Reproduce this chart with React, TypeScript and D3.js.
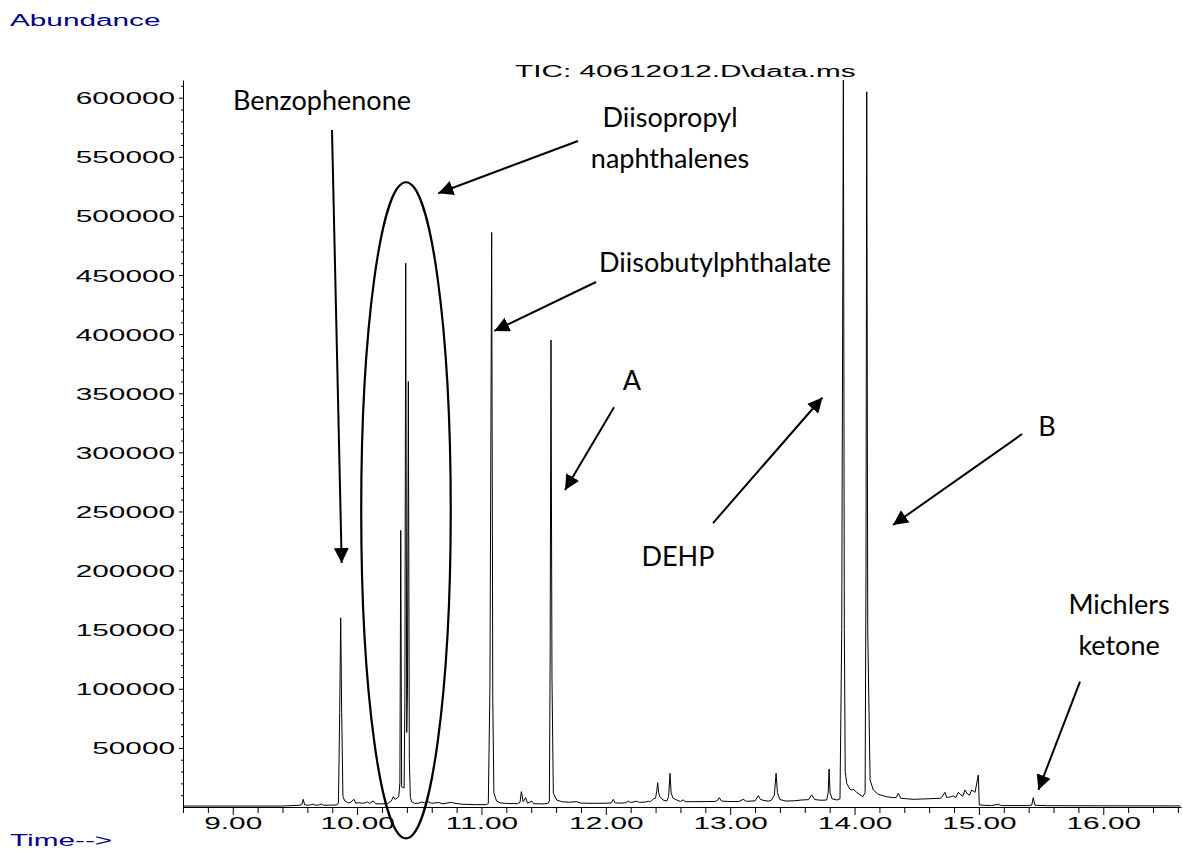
import React, { useEffect, useRef } from 'react'
import * as d3 from 'd3'

// retention time (min), abundance
const ticTrace: [number, number][] = [
  [8.6, 800], [9.4, 800], [9.5, 1300], [9.54, 1500], [9.555, 2000], [9.567, 6500], [9.578, 1800],
  [9.6, 1500], [9.625, 1800], [9.648, 2400], [9.66, 1600], [9.69, 1600], [9.715, 2500], [9.73, 1500],
  [9.8, 1600], [9.836, 1700], [9.85, 3500], [9.86, 80000], [9.868, 160000], [9.876, 80000],
  [9.886, 9000], [9.9, 5200], [9.915, 4500], [9.93, 3500], [9.945, 3800], [9.975, 6500], [9.99, 3200],
  [10.01, 3600], [10.035, 3200], [10.06, 3400], [10.085, 4300], [10.1, 3000], [10.13, 5100],
  [10.15, 2800], [10.2, 2600], [10.25, 3200], [10.275, 5000], [10.291, 8700], [10.305, 6500],
  [10.319, 7400], [10.335, 9000], [10.344, 20000], [10.351, 234000], [10.358, 17000],
  [10.378, 16000], [10.384, 90000], [10.391, 460000], [10.399, 63000], [10.405, 100000],
  [10.412, 360000], [10.42, 40000], [10.428, 8000], [10.439, 4500], [10.46, 3100], [10.49, 3100],
  [10.52, 4200], [10.545, 3400], [10.572, 4500], [10.6, 3100], [10.653, 3800], [10.69, 2700],
  [10.752, 3900], [10.771, 3600], [10.779, 3200], [10.85, 2300], [10.95, 2000], [11.04, 2000],
  [11.055, 3000], [11.068, 100000], [11.082, 486000], [11.091, 90000], [11.1, 11600],
  [11.122, 5000], [11.149, 3500], [11.203, 3000], [11.29, 2800], [11.31, 4000], [11.321, 13000],
  [11.335, 4500], [11.345, 6000], [11.355, 8000], [11.37, 3200], [11.404, 5000], [11.42, 2800],
  [11.5, 2600], [11.535, 3100], [11.546, 5000], [11.552, 120000], [11.559, 395000],
  [11.567, 110000], [11.578, 11600], [11.605, 5900], [11.645, 4500], [11.7, 4000], [11.766, 4500],
  [11.8, 3300], [11.9, 3100], [12.0, 3200], [12.045, 3500], [12.06, 6500], [12.075, 3400],
  [12.12, 3300], [12.16, 3600], [12.181, 4900], [12.2, 3800], [12.248, 4900], [12.27, 3900],
  [12.32, 4200], [12.342, 4900], [12.36, 4500], [12.382, 6800], [12.4, 7500], [12.41, 14000],
  [12.417, 20600], [12.425, 12000], [12.435, 8700], [12.46, 5900], [12.49, 5000], [12.505, 9000],
  [12.516, 28500], [12.525, 12000], [12.54, 7500], [12.57, 5900], [12.6, 4700], [12.623, 6000],
  [12.64, 4500], [12.7, 4500], [12.8, 4600], [12.88, 4700], [12.9, 5800], [12.912, 7900],
  [12.93, 5000], [13.0, 4600], [13.07, 4700], [13.105, 6500], [13.13, 4800], [13.2, 5200],
  [13.226, 9600], [13.245, 6300], [13.28, 5300], [13.31, 5000], [13.33, 5600], [13.355, 10000],
  [13.369, 28500], [13.38, 12000], [13.4, 6300], [13.45, 5000], [13.52, 5300], [13.57, 5900],
  [13.63, 6200], [13.655, 10200], [13.68, 6300], [13.73, 5700], [13.776, 5900], [13.788, 12000],
  [13.795, 32200], [13.803, 12000], [13.82, 6900], [13.86, 5900], [13.883, 7000],
  [13.897, 150000], [13.91, 615000], [13.918, 150000], [13.925, 30000], [13.937, 20000],
  [13.963, 15000], [13.98, 14400], [13.99, 15000], [14.017, 12400], [14.044, 10200],
  [14.066, 8700], [14.085, 12000], [14.092, 200000], [14.098, 605000], [14.106, 150000],
  [14.125, 22800], [14.151, 14400], [14.191, 10700], [14.259, 8700], [14.312, 7900],
  [14.335, 8000], [14.352, 11600], [14.371, 7400], [14.472, 6500], [14.607, 7000],
  [14.687, 7400], [14.7, 8000], [14.727, 12400], [14.74, 8200], [14.754, 8200], [14.77, 8500],
  [14.794, 9300], [14.815, 8000], [14.834, 12400], [14.856, 10200], [14.87, 9000],
  [14.888, 14400], [14.907, 11000], [14.925, 10000], [14.942, 14400], [14.969, 12400],
  [14.995, 27100], [15.003, 1700], [15.1, 1200], [15.156, 2300], [15.18, 1200], [15.4, 1200],
  [15.425, 1600], [15.437, 7900], [15.45, 1500], [15.55, 1100], [16.0, 1000], [16.62, 900],
]

const xMajorTicks = [9, 10, 11, 12, 13, 14, 15, 16]
const yMajorTicks = [50000, 100000, 150000, 200000, 250000, 300000, 350000, 400000, 450000, 500000, 550000, 600000]

// peak names: text, time, abundance of the baseline
const peakLabels = [
  { text: 'Benzophenone', t: 9.002, v: 589600, anchor: 'start' },
  { text: 'Diisopropyl', t: 12.516, v: 575200, anchor: 'middle' },
  { text: 'naphthalenes', t: 12.516, v: 540500, anchor: 'middle' },
  { text: 'Diisobutylphthalate', t: 12.878, v: 452600, anchor: 'middle' },
  { text: 'A', t: 12.21, v: 352800, anchor: 'middle' },
  { text: 'B', t: 15.548, v: 313800, anchor: 'middle' },
  { text: 'DEHP', t: 12.58, v: 203900, anchor: 'middle' },
  { text: 'Michlers', t: 16.127, v: 163300, anchor: 'middle' },
  { text: 'ketone', t: 16.127, v: 128600, anchor: 'middle' },
]

// arrows: [time, abundance] from -> to
const arrows: [number, number, number, number][] = [
  [9.798, 572700, 9.876, 206400],
  [11.776, 563400, 10.653, 519200],
  [11.921, 444100, 11.103, 402700],
  [12.066, 338100, 11.672, 268200],
  [12.862, 240200, 13.742, 346400],
  [15.347, 315500, 14.309, 238600],
  [15.813, 106000, 15.478, 14400],
]

// ring round the diisopropyl naphthalenes: centre time, centre abundance, half width (min), half height
const ring = { t: 10.393, v: 251000, dt: 0.36, dv: 277500 }

const STRETCH = 1.86
const chemFont = '"Liberation Sans", Arial, sans-serif'

function App() {
  const ref = useRef<SVGSVGElement>(null)

  useEffect(() => {
    document.body.style.margin = '0'
    const svg = d3.select(ref.current)
    svg.selectAll('*').remove()

    const x = d3.scaleLinear().domain([8.6, 16.625]).range([183, 1181])
    const y = d3.scaleLinear().domain([0, 615000]).range([807, 80])

    const defs = svg.append('defs')
    defs.append('marker')
      .attr('id', 'head')
      .attr('viewBox', '0 0 10 10')
      .attr('refX', 10)
      .attr('refY', 5)
      .attr('markerWidth', 15)
      .attr('markerHeight', 15)
      .attr('markerUnits', 'userSpaceOnUse')
      .attr('orient', 'auto')
      .append('path')
      .attr('d', 'M0,0 L10,5 L0,10 z')
      .attr('fill', '#000')

    // axis titles
    svg.append('text')
      .attr('transform', `translate(10,26) scale(${STRETCH},1)`)
      .style('font-family', chemFont)
      .style('font-size', '16px')
      .attr('fill', '#00008b')
      .text('Abundance')

    svg.append('text')
      .attr('transform', `translate(10,846) scale(${STRETCH},1)`)
      .style('font-family', chemFont)
      .style('font-size', '16px')
      .attr('fill', '#00008b')
      .text('Time-->')

    svg.append('text')
      .attr('transform', `translate(515,77) scale(${STRETCH},1)`)
      .style('font-family', chemFont)
      .style('font-size', '16px')
      .attr('fill', '#000')
      .text('TIC: 40612012.D\\data.ms')

    // x axis
    const xMinor = d3.range(8.6, 16.63, 0.2).filter(d => Math.abs(d - Math.round(d)) > 0.01)
    svg.append('g')
      .attr('transform', `translate(0,${y(0)})`)
      .call(d3.axisBottom(x).tickValues(xMinor).tickSize(6).tickSizeOuter(0).tickFormat(() => ''))
      .call(g => g.select('.domain').remove())

    svg.append('g')
      .attr('transform', `translate(0,${y(0)})`)
      .call(d3.axisBottom(x).tickValues(xMajorTicks).tickSize(8).tickSizeOuter(0).tickFormat(d3.format('.2f')))
      .selectAll('text')
      .attr('y', null)
      .attr('dy', null)
      .attr('transform', `translate(0,21.5) scale(${STRETCH},1)`)
      .style('font-family', chemFont)
      .style('font-size', '16px')

    // y axis
    const yMinor = d3.range(10000, 615000, 10000).filter(d => d % 50000 !== 0)
    svg.append('g')
      .attr('transform', `translate(${x(8.6)},0)`)
      .call(d3.axisLeft(y).tickValues(yMinor).tickSize(2).tickSizeOuter(0).tickFormat(() => ''))
      .call(g => g.select('.domain').remove())

    svg.append('g')
      .attr('transform', `translate(${x(8.6)},0)`)
      .call(d3.axisLeft(y).tickValues(yMajorTicks).tickSize(4).tickSizeOuter(0).tickFormat(d3.format('d')))
      .selectAll('text')
      .attr('x', null)
      .attr('dy', null)
      .attr('transform', `translate(-8,6) scale(${STRETCH},1)`)
      .style('font-family', chemFont)
      .style('font-size', '16px')

    // the trace
    const line = d3.line<[number, number]>().x(d => x(d[0])).y(d => y(d[1]))
    svg.append('path')
      .datum(ticTrace)
      .attr('d', line)
      .attr('fill', 'none')
      .attr('stroke', '#000')
      .attr('stroke-width', 1)
      .attr('stroke-linejoin', 'round')

    // annotations
    svg.append('ellipse')
      .attr('cx', x(ring.t))
      .attr('cy', y(ring.v))
      .attr('rx', x(ring.t + ring.dt) - x(ring.t))
      .attr('ry', y(0) - y(ring.dv))
      .attr('fill', 'none')
      .attr('stroke', '#000')
      .attr('stroke-width', 2.2)

    svg.selectAll('.arrow')
      .data(arrows)
      .enter().append('line')
      .attr('class', 'arrow')
      .attr('x1', d => x(d[0]))
      .attr('y1', d => y(d[1]))
      .attr('x2', d => x(d[2]))
      .attr('y2', d => y(d[3]))
      .attr('stroke', '#000')
      .attr('stroke-width', 2)
      .attr('marker-end', 'url(#head)')

    svg.selectAll('.peak-label')
      .data(peakLabels)
      .enter().append('text')
      .attr('class', 'peak-label')
      .attr('x', d => x(d.t))
      .attr('y', d => y(d.v))
      .attr('text-anchor', d => d.anchor)
      .style('font-family', 'Lato, "Open Sans", sans-serif')
      .style('font-size', '27px')
      .attr('fill', '#000')
      .text(d => d.text)
  }, [])

  return <svg ref={ref} width={1183} height={856} style={{ display: 'block', background: '#fff' }} />
}

export default App
